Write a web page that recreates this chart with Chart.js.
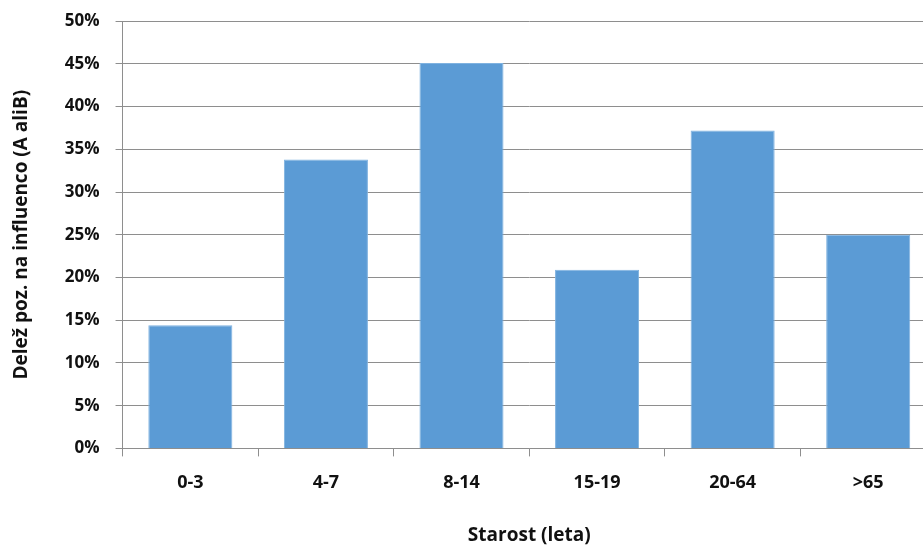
<!DOCTYPE html>
<html>
<head>
<meta charset="utf-8">
<script src="https://cdn.jsdelivr.net/npm/chart.js@4"></script>
<style>
  html, body { margin: 0; padding: 0; overflow: hidden; background: #fff; }
  #wrap { width: 936px; height: 545px; position: relative; }
</style>
</head>
<body>
<div id="wrap"><canvas id="graph"></canvas></div>
<script>
'use strict';

let ageGroups = ['0-3', '4-7', '8-14', '15-19', '20-64', '>65'];
let positiveShare = [14.4, 33.8, 45.1, 20.9, 37.2, 25.0];
let yTickStep = 5;
let yMax = 50;

let barColor = '#5b9bd5';
let gridColor = '#8e8e8e';
let textColor = '#111';
let fontFamily = '"Open Sans", Lato, sans-serif';

const ctx = document.getElementById('graph').getContext('2d');

let graph = new Chart(ctx, { //eslint-disable-line
  type: 'bar',
  data: {
    labels: ageGroups,
    datasets: [{
      data: positiveShare,
      backgroundColor: barColor,
      borderColor: '#7fb2e0',
      borderWidth: 1,
      categoryPercentage: 0.62,
      barPercentage: 1
    }]
  },
  options: {
    responsive: true,
    maintainAspectRatio: false,
    animation: false,
    layout: { padding: { top: 2, right: 0, bottom: 0, left: 10 } },
    plugins: {
      legend: { display: false },
      tooltip: { enabled: false }
    },
    scales: {
      x: {
        offset: true,
        grid: {
          offset: true,
          drawOnChartArea: false,
          drawTicks: true,
          tickLength: 8,
          color: gridColor,
          lineWidth: 1
        },
        border: { color: gridColor, width: 1 },
        ticks: {
          color: textColor,
          padding: 16,
          font: { family: fontFamily, size: 18, weight: 'bold' }
        },
        title: {
          display: true,
          text: 'Starost (leta)',
          color: textColor,
          padding: { top: 16, bottom: 0 },
          font: { family: fontFamily, size: 19, weight: 'bold', lineHeight: 1 }
        }
      },
      y: {
        min: 0,
        max: yMax,
        grid: {
          color: gridColor,
          lineWidth: 1,
          tickLength: 7
        },
        border: { color: gridColor, width: 1 },
        ticks: {
          stepSize: yTickStep,
          color: textColor,
          padding: 16,
          font: { family: fontFamily, size: 17, weight: 'bold', lineHeight: 0.6 },
          callback: function (value) { return value + '%'; }
        },
        title: {
          display: true,
          text: 'Delež poz. na influenco (A aliB)',
          color: textColor,
          padding: { top: 0, bottom: 16 },
          font: { family: fontFamily, size: 19, weight: 'bold' }
        }
      }
    }
  }
});
</script>
</body>
</html>
